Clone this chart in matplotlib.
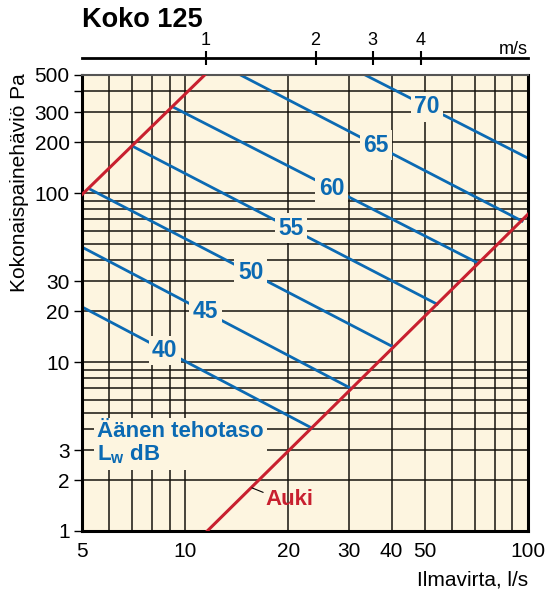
import numpy as np
import matplotlib.pyplot as plt
from matplotlib.ticker import NullFormatter, NullLocator

plt.rcParams['font.family'] = ['Liberation Sans', 'DejaVu Sans']
plt.rcParams['mathtext.fontset'] = 'custom'
plt.rcParams['mathtext.rm'] = 'Liberation Sans'
plt.rcParams['mathtext.bf'] = 'Liberation Sans:bold'

# sound power level lines (dB), start / end points
levels = [40, 45, 50, 55, 60, 65, 70]
q_start = [5.0, 5.0, 5.27, 7.0, 9.22, 14.5, 33.5]
p_start = [21.2, 47.9, 105.6, 190, 323, 500, 500]
q_end = [23.4, 30.3, 40.4, 54.3, 71.5, 96.1, 100]
p_end = [4.07, 7.02, 12.3, 22.0, 38.5, 68.3, 161]

# damper curves
open_q = [11.6, 100]
open_p = [1.0, 75]
min_q = [5.0, 11.4]
min_p = [98, 500]

# axis ticks
x_ticks = [5, 10, 20, 30, 40, 50, 100]
x_minor = [6, 7, 8, 9, 60, 70, 80, 90]
y_ticks = [1, 2, 3, 10, 20, 30, 100, 200, 300, 400, 500]
y_labels = ['1', '2', '3', '10', '20', '30', '100', '200', '300', '', '500']
y_minor = [4, 5, 6, 7, 8, 9, 40, 50, 60, 70, 80, 90]
speed = [1, 2, 3, 4]
speed_q = [11.5, 24.0, 35.2, 48.6]

BG = '#fdf5e0'
BLUE = '#0b6ab3'
RED = '#c8202f'

label_frac = [0.36, 0.46, 0.53, 0.52, 0.52, 0.48, 0.38]

fig = plt.figure(figsize=(5.5, 5.91), dpi=100)
ax = fig.add_axes([82 / 550, 1 - 531 / 591, 446 / 550, 456 / 591])
ax.set_xscale('log')
ax.set_yscale('log')
ax.set_xlim(5, 100)
ax.set_ylim(1, 500)
ax.set_facecolor(BG)

ax.set_xticks(x_ticks)
ax.set_xticklabels([str(t) for t in x_ticks])
ax.set_xticks(x_minor, minor=True)
ax.set_yticks(y_ticks)
ax.set_yticklabels(y_labels)
ax.set_yticks(y_minor, minor=True)
ax.xaxis.set_minor_formatter(NullFormatter())
ax.yaxis.set_minor_formatter(NullFormatter())
ax.grid(which='both', color='#15120d', lw=1.1, zorder=1)
ax.set_axisbelow(True)
ax.tick_params(axis='x', which='both', length=0, pad=8, labelsize=15)
ax.tick_params(axis='y', which='major', length=6, width=1, pad=3, labelsize=15)
ax.tick_params(axis='y', which='minor', length=0)
for s in ['left', 'bottom', 'right']:
    ax.spines[s].set_linewidth(2.2)
ax.spines['top'].set_linewidth(1.5)
ax.spines['top'].set_color('#555')

# red damper lines
ax.plot(min_q, min_p, color=RED, lw=2.2, zorder=3)
ax.plot(open_q, open_p, color=RED, lw=2.2, zorder=3)

# blue sound level lines with labels
for i, lv in enumerate(levels):
    ax.plot([q_start[i], q_end[i]], [p_start[i], p_end[i]], color=BLUE, lw=2, zorder=2)
    t = label_frac[i]
    lq = 10 ** (np.log10(q_start[i]) + t * (np.log10(q_end[i]) - np.log10(q_start[i])))
    lp = 10 ** (np.log10(p_start[i]) + t * (np.log10(p_end[i]) - np.log10(p_start[i])))
    ax.text(lq, lp, str(lv), color=BLUE, fontsize=16.5, fontweight='bold',
            ha='center', va='center', zorder=4,
            bbox=dict(facecolor=BG, edgecolor='none', pad=2.5))

ax.text(0.034, 0.192, 'Äänen tehotaso\nL$_\\mathbf{w}$ dB', transform=ax.transAxes,
        color=BLUE, fontsize=16, fontweight='bold', ha='left', va='center',
        linespacing=1.05, zorder=4, bbox=dict(facecolor=BG, edgecolor='none', pad=2.5))

ax.annotate('Auki', xy=(15.66, 1.80), xytext=(17.2, 1.53), color=RED,
            fontsize=16, fontweight='bold', ha='left', va='center', zorder=4,
            arrowprops=dict(arrowstyle='-', color='black', lw=0.8,
                            shrinkA=0, shrinkB=0, relpos=(0, 0.8)))

# top axis: air velocity
top = ax.twiny()
top.set_xscale('log')
top.set_xlim(ax.get_xlim())
top.set_xticks(speed_q)
top.set_xticklabels([str(v) for v in speed])
top.xaxis.set_minor_locator(NullLocator())
top.spines['top'].set_position(('outward', 12))
top.spines['top'].set_linewidth(2)
for s in ['left', 'right', 'bottom']:
    top.spines[s].set_visible(False)
top.tick_params(axis='x', direction='inout', length=10, width=1.5, pad=2, labelsize=13)

fig.text(528 / 550, 1 - 49 / 591, 'm/s', ha='right', va='center', fontsize=13)
fig.text(82 / 550, 1 - 20 / 591, 'Koko 125', ha='left', va='center', fontsize=19.5, fontweight='bold')
fig.text(20 / 550, 1 - 183 / 591, 'Kokonaispainehäviö Pa', rotation=90, ha='center', va='center', fontsize=15)
fig.text(528 / 550, 1 - 580 / 591, 'Ilmavirta, l/s', ha='right', va='center', fontsize=15)

fig.savefig('out.png', dpi=100, facecolor='white')
